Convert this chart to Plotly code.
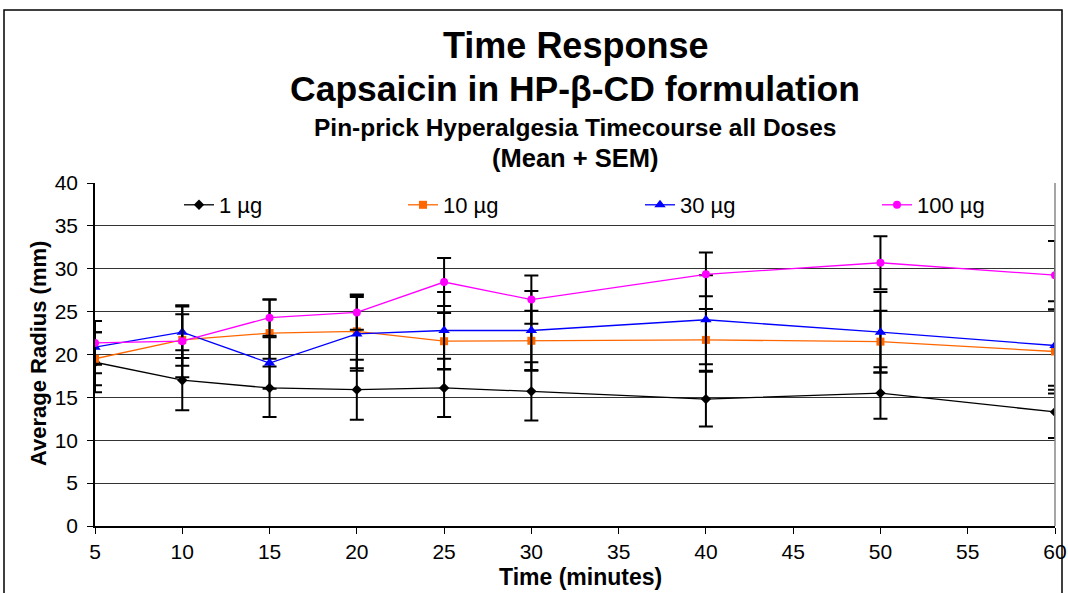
import plotly.graph_objects as go

times = [5, 10, 15, 20, 25, 30, 40, 50, 60]
series_names = ["1 µg", "10 µg", "30 µg", "100 µg"]
mean_1 = [19.1, 17.0, 16.1, 15.9, 16.1, 15.7, 14.8, 15.5, 13.3]
sem_1 = [3.5, 3.5, 3.4, 3.5, 3.4, 3.4, 3.2, 3.0, 3.05]
mean_10 = [19.5, 21.7, 22.5, 22.7, 21.55, 21.6, 21.7, 21.5, 20.35]
sem_10 = [3.1, 3.0, 3.9, 4.3, 3.3, 3.5, 3.6, 3.6, 4.9]
mean_30 = [20.85, 22.6, 19.0, 22.4, 22.8, 22.8, 24.05, 22.6, 21.05]
sem_30 = [3.05, 3.0, 3.0, 4.3, 4.5, 4.6, 5.2, 4.7, 5.15]
mean_100 = [21.35, 21.55, 24.3, 24.9, 28.45, 26.4, 29.35, 30.7, 29.25]
sem_100 = [2.55, 4.2, 2.1, 2.0, 2.8, 2.8, 2.55, 3.1, 4.0]

means = [mean_1, mean_10, mean_30, mean_100]
sems = [sem_1, sem_10, sem_30, sem_100]
colors = ["#000000", "#FF6600", "#0000FF", "#FF00FF"]
symbols = ["diamond", "square", "triangle-up", "circle"]
msizes = [8, 8, 10, 8]
legend_ids = ["legend", "legend2", "legend3", "legend4"]
legend_px = [179, 403, 640, 877]

FONT = "Liberation Sans, Arial, sans-serif"

# plot area: left 95, right 1055, top 183, bottom 526
L, R, T, B = 95, 1055, 183, 526
W, H = R - L, B - T

def px(x):
    return (x - L) / W

def py(y):
    return (B - y) / H

fig = go.Figure()
for name, m, s, c, sym, ms, lg in zip(series_names, means, sems, colors, symbols, msizes, legend_ids):
    fig.add_trace(go.Scatter(
        x=times, y=m, name=name, mode="lines+markers", legend=lg,
        line=dict(color=c, width=1.3),
        marker=dict(symbol=sym, size=ms, color=c),
        error_y=dict(type="data", array=s, visible=True, color="#000000",
                     thickness=2, width=7),
    ))

legend_common = dict(orientation="h", yanchor="middle", xanchor="left",
                     bgcolor="rgba(255,255,255,0)", font=dict(size=22, family=FONT))
layout_legends = {}
for lg, lx in zip(legend_ids, legend_px):
    layout_legends[lg] = dict(legend_common, x=px(lx), y=py(205))

fig.update_layout(
    width=1068, height=593,
    margin=dict(l=L, r=1068 - R, t=T, b=593 - B),
    paper_bgcolor="white", plot_bgcolor="white",
    font=dict(family=FONT, color="black"),
    showlegend=True,
    xaxis=dict(range=[5, 60], tick0=5, dtick=5, showgrid=False, zeroline=False,
               showline=True, linecolor="black", linewidth=1.5, automargin=False,
               ticks="outside", ticklen=6, tickcolor="black", tickwidth=1.2,
               tickfont=dict(size=21, family=FONT), ticklabelstandoff=0),
    yaxis=dict(range=[0, 40], dtick=5, showgrid=True, gridcolor="#333333", gridwidth=1.4,
               zeroline=False, showline=True, linecolor="black", linewidth=1.5, automargin=False,
               ticks="outside", ticklen=6, tickcolor="black", tickwidth=1.2,
               tickfont=dict(size=21, family=FONT), ticklabelstandoff=5),
    **layout_legends,
)

titles = [
    ("<b>Time Response</b>", 36, 45),
    ("<b>Capsaicin in HP-β-CD formulation</b>", 35.5, 89),
    ("<b>Pin-prick Hyperalgesia Timecourse all Doses</b>", 24.5, 128),
    ("<b>(Mean + SEM)</b>", 25.5, 158),
]
for text, size, ypix in titles:
    fig.add_annotation(text=text, xref="paper", yref="paper", x=0.5, y=py(ypix),
                       xanchor="center", yanchor="middle", showarrow=False,
                       font=dict(size=size, family=FONT, color="black"))

# axis titles
fig.add_annotation(text="<b>Time (minutes)</b>", xref="paper", yref="paper",
                   x=px(580), y=py(577), xanchor="center", yanchor="middle", showarrow=False,
                   font=dict(size=23, family=FONT, color="black"))
fig.add_annotation(text="<b>Average Radius (mm)</b>", xref="paper", yref="paper",
                   x=px(38), y=py(354), xanchor="center", yanchor="middle", showarrow=False,
                   textangle=-90, font=dict(size=22, family=FONT, color="black"))

# plot area right border and outer chart frame
fig.add_shape(type="line", xref="paper", yref="paper", x0=1, x1=1, y0=0, y1=1,
              line=dict(color="#888888", width=1.5))
fig.add_shape(type="rect", xref="paper", yref="paper",
              x0=px(4), x1=px(1062), y0=py(600), y1=py(10),
              line=dict(color="black", width=1.5), fillcolor="rgba(0,0,0,0)", layer="below")

fig.write_html("out.html", config={"displayModeBar": False},
               post_script="document.body.style.margin='0px';")
